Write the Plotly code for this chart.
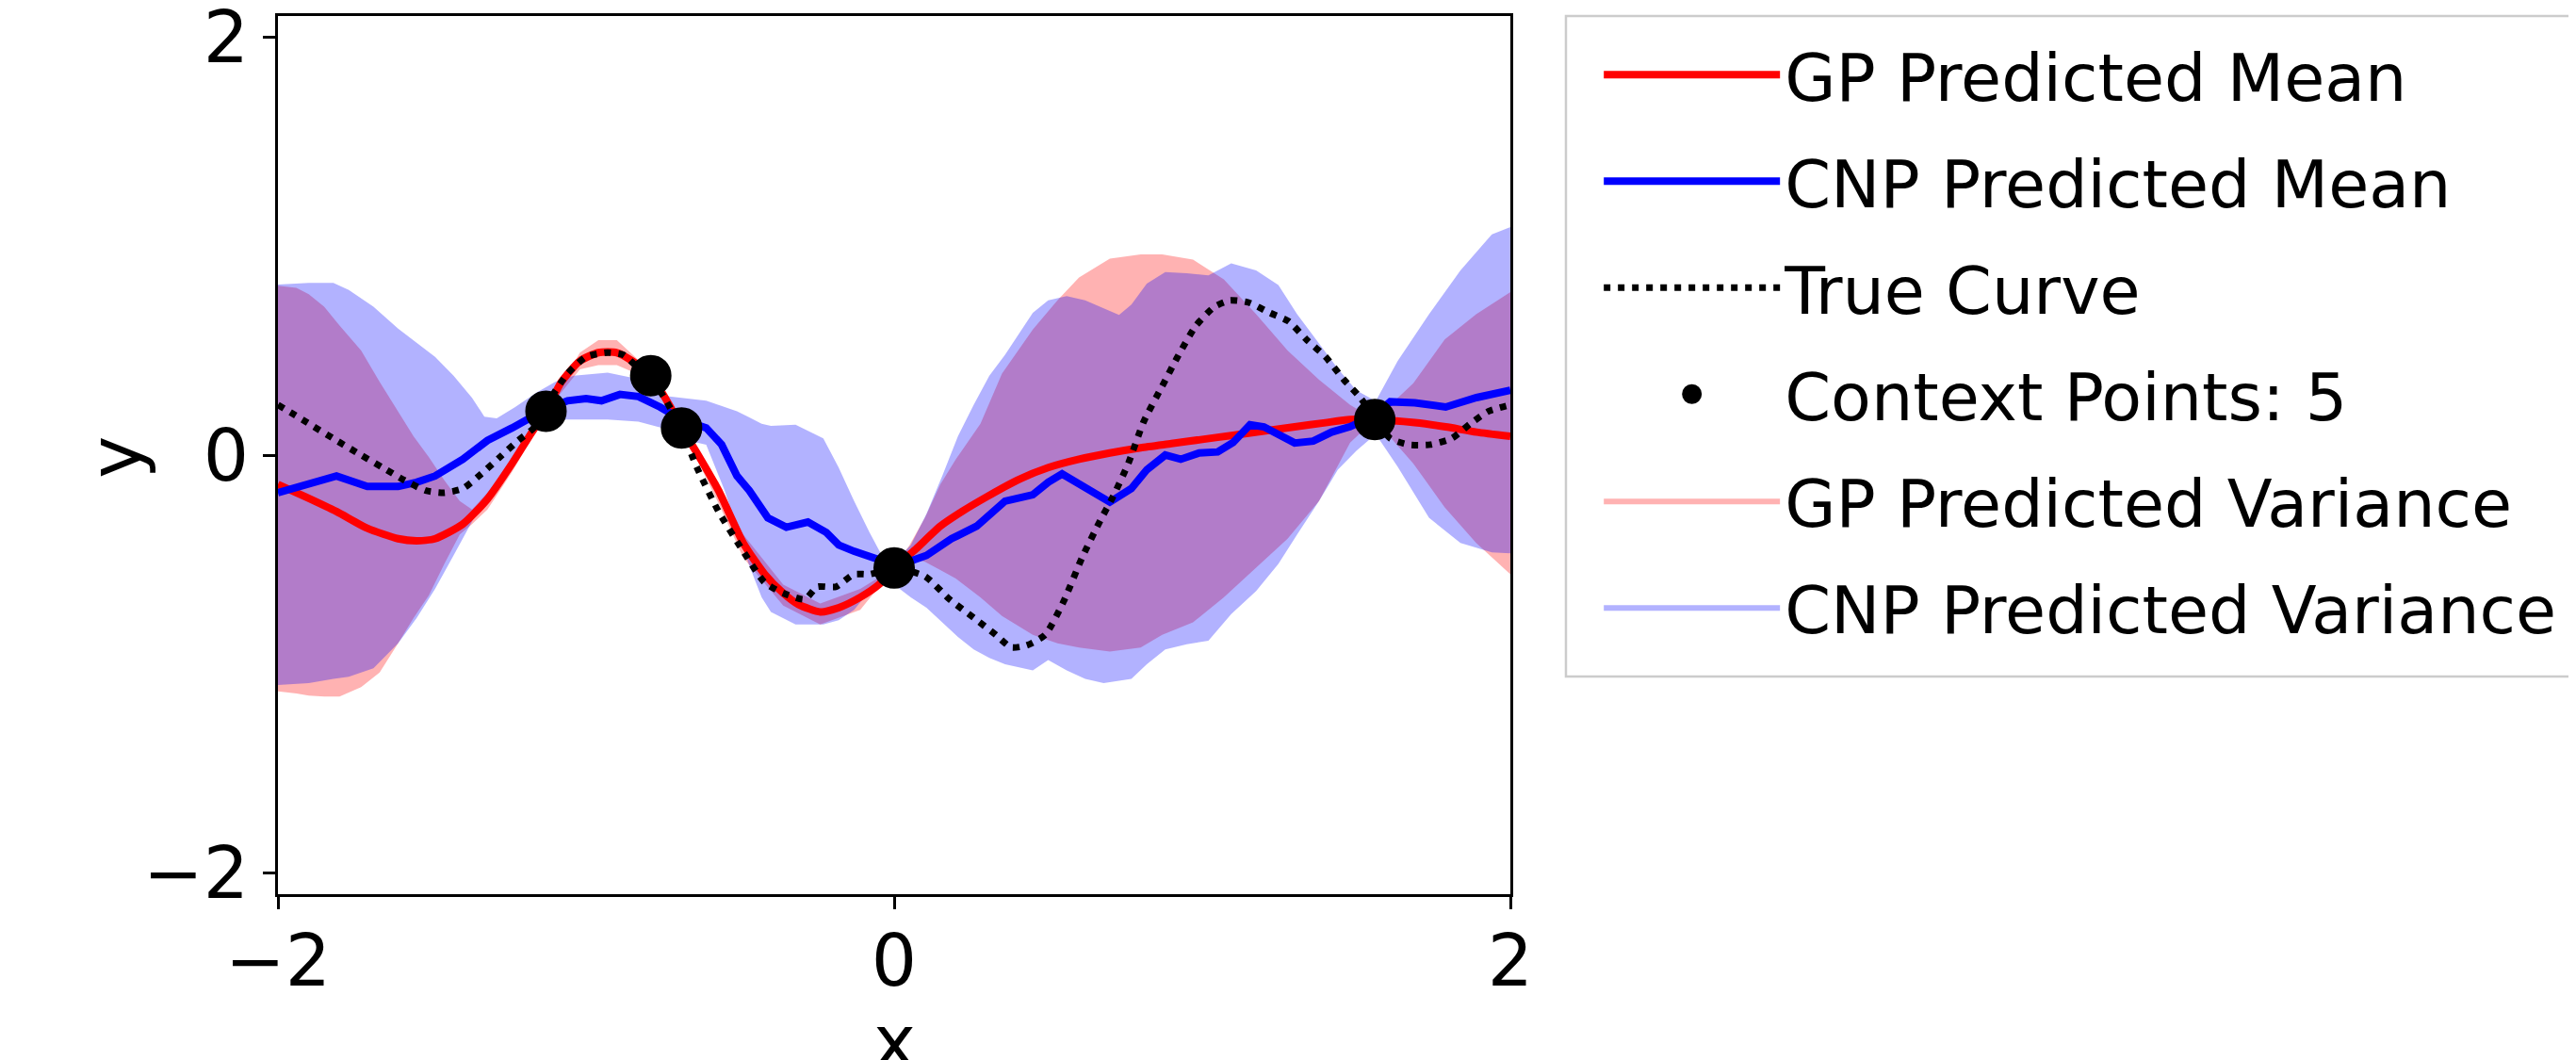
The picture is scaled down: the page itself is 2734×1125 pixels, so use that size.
import plotly.graph_objects as go

# ---------------- data ----------------
true_x = [-2.00, -1.91, -1.81, -1.73, -1.66, -1.59, -1.52, -1.46, -1.40, -1.34, -1.28, -1.22, -1.17,
          -1.12, -1.06, -1.00, -0.93, -0.88, -0.84, -0.79, -0.74, -0.69, -0.64, -0.57, -0.49, -0.42,
          -0.36, -0.29, -0.25, -0.19, -0.13, -0.08, 0.00, 0.10, 0.18, 0.26, 0.33, 0.38, 0.43, 0.49,
          0.55, 0.61, 0.67, 0.71, 0.76, 0.81, 0.87, 0.92, 0.98, 1.04, 1.09, 1.15, 1.22, 1.28, 1.34,
          1.40, 1.46, 1.51, 1.56, 1.61, 1.67, 1.74, 1.81, 1.87, 1.93, 2.00]
true_y = [0.24, 0.16, 0.07, 0.00, -0.06, -0.12, -0.17, -0.18, -0.16, -0.09, -0.01, 0.07, 0.13,
          0.26, 0.39, 0.47, 0.49, 0.48, 0.43, 0.37, 0.26, 0.12, -0.06, -0.27, -0.46, -0.61,
          -0.66, -0.69, -0.63, -0.63, -0.57, -0.57, -0.54, -0.58, -0.69, -0.78, -0.86, -0.92, -0.91, -0.86,
          -0.70, -0.49, -0.31, -0.20, -0.04, 0.16, 0.33, 0.47, 0.62, 0.71, 0.74, 0.73, 0.68, 0.64, 0.55,
          0.47, 0.36, 0.28, 0.18, 0.08, 0.05, 0.05, 0.08, 0.15, 0.21, 0.24]

gp_x = [-2.00, -1.91, -1.81, -1.71, -1.61, -1.55, -1.49, -1.40, -1.32, -1.24, -1.18, -1.13, -1.08,
        -1.02, -0.96, -0.90, -0.85, -0.79, -0.73, -0.69, -0.64, -0.57, -0.49, -0.42, -0.36, -0.31,
        -0.24, -0.18, -0.11, -0.05, 0.00, 0.07, 0.15, 0.22, 0.30, 0.40, 0.50, 0.60, 0.70, 0.80, 0.90,
        1.00, 1.10, 1.20, 1.30, 1.40, 1.48, 1.56, 1.69, 1.79, 1.89, 2.00]
gp_mean = [-0.14, -0.20, -0.27, -0.35, -0.40, -0.41, -0.40, -0.33, -0.21, -0.04, 0.10, 0.21, 0.35,
           0.45, 0.49, 0.49, 0.45, 0.38, 0.24, 0.13, 0.01, -0.17, -0.42, -0.57, -0.66, -0.715,
           -0.75, -0.73, -0.68, -0.62, -0.54, -0.45, -0.34, -0.27, -0.20, -0.12, -0.06, -0.02, 0.01,
           0.035, 0.055, 0.075, 0.095, 0.115, 0.135, 0.155, 0.17, 0.17, 0.155, 0.135, 0.11, 0.09]

cnp_x = [-2.00, -1.91, -1.81, -1.71, -1.61, -1.55, -1.49, -1.40, -1.32, -1.24, -1.18, -1.13, -1.06,
         -1.00, -0.95, -0.89, -0.83, -0.76, -0.69, -0.61, -0.56, -0.51, -0.47, -0.41, -0.35, -0.28,
         -0.22, -0.18, -0.13, -0.07, -0.04, 0.01, 0.105, 0.186, 0.268, 0.36, 0.45, 0.50, 0.545,
         0.61, 0.70, 0.77, 0.82, 0.88, 0.93, 0.99, 1.05, 1.10, 1.155, 1.20, 1.26, 1.30, 1.36, 1.42,
         1.48, 1.56, 1.61, 1.69, 1.79, 1.89, 2.00]
cnp_mean = [-0.18, -0.14, -0.10, -0.15, -0.15, -0.13, -0.10, -0.02, 0.07, 0.13, 0.18, 0.22, 0.26,
            0.27, 0.26, 0.29, 0.28, 0.23, 0.17, 0.13, 0.05, -0.10, -0.17, -0.30, -0.345, -0.32,
            -0.37, -0.43, -0.46, -0.49, -0.51, -0.53, -0.48, -0.40, -0.34, -0.22, -0.19, -0.13, -0.09,
            -0.15, -0.225, -0.16, -0.07, 0.00, -0.02, 0.01, 0.015, 0.06, 0.145, 0.135, 0.084, 0.058, 0.067, 0.11,
            0.136, 0.19, 0.255, 0.25, 0.23, 0.275, 0.31]

gp_band_x = [-2.00, -1.94, -1.90, -1.85, -1.80, -1.73, -1.67, -1.61, -1.56, -1.51, -1.46, -1.41, -1.37,
             -1.32, -1.24, -1.18, -1.13, -1.02, -0.96, -0.90, -0.79, -0.73, -0.69, -0.57, -0.49, -0.36,
             -0.24, -0.11, 0.00, 0.05, 0.10, 0.15, 0.20, 0.28, 0.35, 0.45, 0.53, 0.60, 0.70, 0.80, 0.87,
             0.97, 1.07, 1.175, 1.277, 1.379, 1.48, 1.56, 1.685, 1.787, 1.889, 2.00]
gp_upper = [0.81, 0.80, 0.77, 0.71, 0.62, 0.50, 0.35, 0.21, 0.09, -0.01, -0.12, -0.22, -0.26,
            -0.18, -0.02, 0.12, 0.21, 0.49, 0.55, 0.55, 0.40, 0.27, 0.13, -0.13, -0.38, -0.62,
            -0.71, -0.64, -0.54, -0.43, -0.30, -0.14, -0.02, 0.15, 0.39, 0.60, 0.74, 0.85, 0.94, 0.96,
            0.96, 0.935, 0.84, 0.674, 0.50, 0.36, 0.24, 0.17, 0.344, 0.553, 0.674, 0.78]
gp_lower = [-1.13, -1.14, -1.15, -1.155, -1.155, -1.11, -1.04, -0.90, -0.78, -0.67, -0.52, -0.38, -0.33,
            -0.26, -0.08, 0.07, 0.21, 0.41, 0.43, 0.43, 0.36, 0.21, 0.13, -0.23, -0.49, -0.72,
            -0.81, -0.74, -0.54, -0.49, -0.51, -0.55, -0.59, -0.68, -0.77, -0.86, -0.90, -0.92, -0.94, -0.92,
            -0.86, -0.80, -0.68, -0.54, -0.40, -0.22, 0.06, 0.17, -0.04, -0.25, -0.42, -0.57]

cnp_band_x = [-2.00, -1.90, -1.82, -1.77, -1.69, -1.61, -1.55, -1.49, -1.43, -1.37, -1.33, -1.29, -1.23,
              -1.16, -1.10, -1.04, -0.93, -0.83, -0.73, -0.67, -0.61, -0.55, -0.51, -0.47, -0.43, -0.40,
              -0.32, -0.23, -0.18, -0.13, -0.08, -0.04, 0.00, 0.054, 0.105, 0.156, 0.207, 0.258, 0.309,
              0.36, 0.45, 0.50, 0.56, 0.62, 0.68, 0.73, 0.77, 0.82, 0.88, 0.95, 1.02, 1.094, 1.175, 1.247,
              1.308, 1.379, 1.44, 1.50, 1.563, 1.634, 1.736, 1.838, 1.94, 2.00]
cnp_upper = [0.816, 0.823, 0.823, 0.79, 0.71, 0.605, 0.537, 0.47, 0.38, 0.274, 0.184, 0.176, 0.23,
             0.30, 0.35, 0.38, 0.394, 0.364, 0.28, 0.27, 0.26, 0.23, 0.21, 0.18, 0.15, 0.14,
             0.145, 0.08, -0.06, -0.22, -0.37, -0.48, -0.51, -0.43, -0.28, -0.10, 0.09, 0.24, 0.38,
             0.48, 0.68, 0.74, 0.76, 0.74, 0.70, 0.67, 0.72, 0.82, 0.875, 0.87, 0.86, 0.917, 0.883, 0.813,
             0.674, 0.535, 0.414, 0.31, 0.258, 0.449, 0.674, 0.883, 1.056, 1.09]
cnp_lower = [-1.10, -1.09, -1.07, -1.06, -1.02, -0.90, -0.78, -0.64, -0.48, -0.32, -0.21, -0.12, 0.00,
             0.14, 0.17, 0.17, 0.17, 0.16, 0.12, 0.07, 0.05, -0.17, -0.35, -0.53, -0.68, -0.75,
             -0.81, -0.81, -0.79, -0.74, -0.65, -0.615, -0.62, -0.68, -0.73, -0.80, -0.87, -0.93, -0.97,
             -1.00, -1.03, -0.98, -1.03, -1.07, -1.09, -1.08, -1.07, -1.00, -0.93, -0.905, -0.888, -0.76,
             -0.65, -0.52, -0.38, -0.22, -0.07, 0.02, 0.10, -0.055, -0.30, -0.42, -0.465, -0.47]

ctx_x = [-1.13, -0.79, -0.69, 0.00, 1.56]
ctx_y = [0.21, 0.38, 0.13, -0.54, 0.17]

tick_vals = [-2, 0, 2]
tick_text = ["\u22122", "0", "2"]

labels = ["GP Predicted Mean", "CNP Predicted Mean", "True Curve",
          "Context Points: 5", "GP Predicted Variance", "CNP Predicted Variance"]

# ---------------- figure ----------------
fig = go.Figure()

fig.add_trace(go.Scatter(
    x=gp_band_x + gp_band_x[::-1], y=gp_upper + gp_lower[::-1],
    fill="toself", fillcolor="rgba(255,0,0,0.3)", line=dict(width=0),
    mode="lines", name=labels[4], legendrank=5, legendgroup="g5", hoverinfo="skip"))
fig.add_trace(go.Scatter(
    x=cnp_band_x + cnp_band_x[::-1], y=cnp_upper + cnp_lower[::-1],
    fill="toself", fillcolor="rgba(0,0,255,0.3)", line=dict(width=0),
    mode="lines", name=labels[5], legendrank=6, legendgroup="g6", hoverinfo="skip"))
fig.add_trace(go.Scatter(
    x=gp_x, y=gp_mean, mode="lines", line=dict(color="red", width=8, shape="spline", smoothing=0.6),
    name=labels[0], legendrank=1, legendgroup="g1"))
fig.add_trace(go.Scatter(
    x=cnp_x, y=cnp_mean, mode="lines", line=dict(color="blue", width=8),
    name=labels[1], legendrank=2, legendgroup="g2"))
fig.add_trace(go.Scatter(
    x=true_x, y=true_y, mode="lines",
    line=dict(color="black", width=7, dash="7px,8px", shape="spline", smoothing=0.6),
    name=labels[2], legendrank=3, legendgroup="g3"))
fig.add_trace(go.Scatter(
    x=ctx_x, y=ctx_y, mode="markers",
    marker=dict(color="black", size=39, line=dict(color="black", width=5)),
    name=labels[3], legendrank=4, legendgroup="g4"))

axis_common = dict(
    showline=True, linecolor="black", linewidth=2.5, mirror=True,
    ticks="outside", ticklen=13, tickwidth=2.5, tickcolor="black",
    showgrid=False, zeroline=False, automargin=False,
    tickvals=tick_vals, ticktext=tick_text, ticklabeloverflow="allow",
    tickfont=dict(family="DejaVu Sans", size=76, color="black"),
)

fig.update_layout(
    width=2726, height=1117,
    margin=dict(l=287, r=1131, t=9, b=176),
    paper_bgcolor="white", plot_bgcolor="white",
    font=dict(family="DejaVu Sans", color="black"),
    xaxis=dict(range=[-2, 2], ticklabelstandoff=-10, **axis_common),
    yaxis=dict(range=[-2.1, 2.1], **axis_common),
    annotations=[
        dict(text="y", xref="paper", yref="paper", x=-0.1315, y=0.498,
             xanchor="center", yanchor="middle", textangle=-90, showarrow=False,
             font=dict(family="DejaVu Sans", size=76, color="black")),
        dict(text="x", xref="paper", yref="paper", x=0.5, y=-0.168,
             xanchor="center", yanchor="middle", showarrow=False,
             font=dict(family="DejaVu Sans", size=76, color="black")),
    ],
    legend=dict(
        x=1.072, y=0.989, xanchor="left", yanchor="top",
        font=dict(family="DejaVu Sans", size=70, color="black"),
        bgcolor="rgba(0,0,0,0)", borderwidth=0,
        tracegroupgap=19, itemwidth=187,
    ),
    shapes=[dict(type="rect", xref="paper", yref="paper",
                 x0=1.0451, x1=1.95, y0=0.2479, y1=1.0,
                 line=dict(color="#cccccc", width=2.5), fillcolor="white", layer="below")],
    showlegend=True,
)

fig.write_html("out.html")
